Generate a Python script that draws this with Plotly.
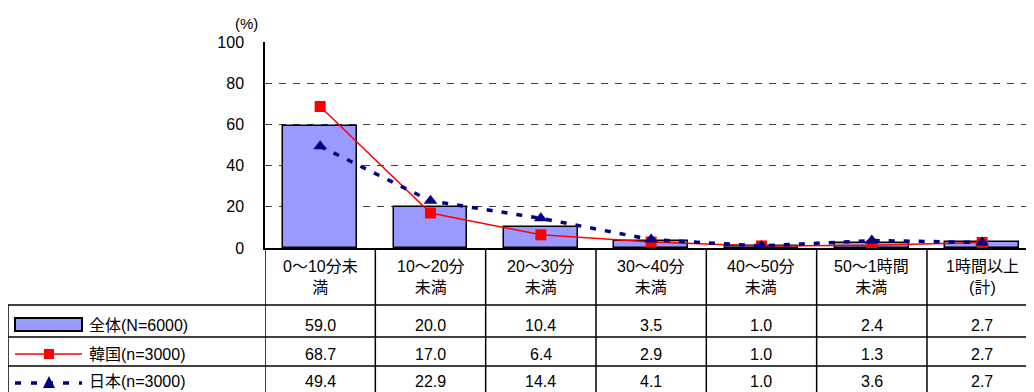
import plotly.graph_objects as go

categories = ["0～10分未<br>満", "10～20分<br>未満", "20～30分<br>未満", "30～40分<br>未満",
              "40～50分<br>未満", "50～1時間<br>未満", "1時間以上<br>(計)"]
series_names = ["全体(N=6000)", "韓国(n=3000)", "日本(n=3000)"]
total = [59.0, 20.0, 10.4, 3.5, 1.0, 2.4, 2.7]
korea = [68.7, 17.0, 6.4, 2.9, 1.0, 1.3, 2.7]
japan = [49.4, 22.9, 14.4, 4.1, 1.0, 3.6, 2.7]
y_ticks = [0, 20, 40, 60, 80, 100]

OFF = 8  # page body margin
W, H = 1034 - OFF, 392 - OFF
L, T = 265 - OFF, 42 - OFF
B = H - (248 - OFF)
COLW = 110.33
FONT = "Liberation Sans, Arial, Noto Sans CJK JP"
PW = W - L
PH = H - T - B
span = PW / COLW
xs = list(range(len(categories)))

def pxx(px):
    return (px - OFF - L) / PW

def pyy(py):
    return (H - B - (py - OFF)) / PH

fig = go.Figure()
fig.add_trace(go.Bar(x=xs, y=total, width=0.67, name=series_names[0],
                     marker=dict(color="#9999FF", line=dict(color="black", width=1.5)),
                     showlegend=False))
fig.add_trace(go.Scatter(x=xs, y=korea, mode="lines+markers", name=series_names[1],
                         line=dict(color="#FF0000", width=1.5),
                         marker=dict(symbol="square", size=11, color="#FF0000"),
                         showlegend=False))
fig.add_trace(go.Scatter(x=xs, y=japan, mode="lines+markers", name=series_names[2],
                         line=dict(color="#000080", width=3.5, dash="6px,9px"),
                         marker=dict(symbol="triangle-up", size=12, color="#000080"),
                         showlegend=False))

shapes = []
line_k = dict(color="black", width=1.5)
y_rows = [305, 337, 366]
for k in range(len(categories) + 1):
    xc = -0.5 + k
    shapes.append(dict(type="line", xref="x", yref="paper", x0=xc, x1=xc,
                       y0=0, y1=pyy(400), line=line_k))
for py in y_rows:
    shapes.append(dict(type="line", xref="paper", yref="paper", x0=pxx(8), x1=1.01,
                       y0=pyy(py), y1=pyy(py), line=line_k))
shapes.append(dict(type="line", xref="paper", yref="paper", x0=pxx(8), x1=pxx(8),
                   y0=pyy(305), y1=pyy(400), line=line_k))

# legend symbols in table
shapes.append(dict(type="rect", xref="paper", yref="paper", x0=pxx(15), x1=pxx(82),
                   y0=pyy(331), y1=pyy(318), fillcolor="#9999FF",
                   line=dict(color="black", width=2)))
shapes.append(dict(type="line", xref="paper", yref="paper", x0=pxx(15), x1=pxx(82),
                   y0=pyy(354), y1=pyy(354), line=dict(color="#FF0000", width=1.5)))
shapes.append(dict(type="rect", xref="paper", yref="paper", x0=pxx(44), x1=pxx(54),
                   y0=pyy(359), y1=pyy(349), fillcolor="#FF0000", line=dict(width=0)))
shapes.append(dict(type="line", xref="paper", yref="paper", x0=pxx(15), x1=pxx(82),
                   y0=pyy(383), y1=pyy(383),
                   line=dict(color="#000080", width=3.5, dash="6px,10px")))
tri = "M {} {} L {} {} L {} {} Z".format(pxx(49), pyy(376), pxx(43), pyy(388), pxx(55), pyy(388))
shapes.append(dict(type="path", xref="paper", yref="paper", path=tri,
                   fillcolor="#000080", line=dict(width=0)))

def txt(text, x, y, xref="paper", xanchor="center", size=16):
    return dict(text=text, xref=xref, yref="paper", x=x, y=y, showarrow=False,
                xanchor=xanchor, yanchor="middle", align="center",
                font=dict(size=size, color="black", family=FONT))

ann = [txt("(%)", pxx(246), pyy(23), size=15)]
for i, c in enumerate(categories):
    ann.append(txt(c, i, pyy(277), xref="x"))
row_y = [325, 354, 381]
for r, vals in enumerate([total, korea, japan]):
    ann.append(txt(series_names[r], pxx(87), pyy(row_y[r]), xanchor="left"))
    for i, v in enumerate(vals):
        ann.append(txt(f"{v:.1f}", i, pyy(row_y[r]), xref="x"))

fig.update_layout(
    width=W, height=H, autosize=False,
    margin=dict(l=L, r=0, t=T, b=B, pad=0),
    plot_bgcolor="white", paper_bgcolor="white",
    font=dict(family=FONT, size=16, color="black"),
    shapes=shapes, annotations=ann,
    bargap=0,
)
fig.update_xaxes(range=[-0.5, -0.5 + span], showticklabels=False, showgrid=False,
                 showline=True, linecolor="black", linewidth=1.5, zeroline=False, ticks="")
fig.update_yaxes(range=[0, 100], tickvals=y_ticks, showgrid=True, gridcolor="#404040",
                 griddash="7px,7px", gridwidth=1, showline=True, linecolor="black",
                 linewidth=1.5, zeroline=False, ticks="", ticklabelstandoff=16,
                 tickfont=dict(size=16, color="black", family=FONT))

fig.write_html("out.html")
